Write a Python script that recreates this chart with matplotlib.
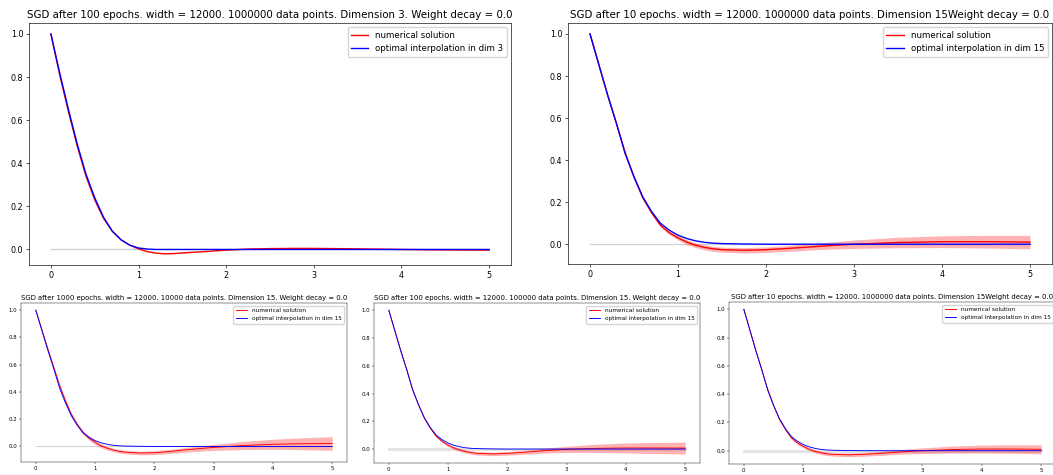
#!/usr/bin/env python
# sgd_panels.py

"""
Numerical solution of SGD vs optimal interpolation, five runs side by side.
"""

import matplotlib
matplotlib.use("Agg")
import matplotlib.pyplot as plt

#####################################################################
# Data
#####################################################################

x = [0, 0.1, 0.2, 0.3, 0.4, 0.5, 0.6, 0.7, 0.8, 0.9, 1.0, 1.1, 1.2, 1.3,
     1.4, 1.5, 1.75, 2.0, 2.25, 2.5, 2.75, 3.0, 3.5, 4.0, 4.5, 5.0]

# optimal interpolation, dimension 3
opt_dim3 = [1.0, 0.82, 0.65, 0.49, 0.35, 0.24, 0.15, 0.085, 0.045, 0.02,
            0.007, 0.002, 0.0, 0.0, 0.0, 0.0, 0.0, 0.0, 0.0, 0.0, 0.0, 0.0,
            0.0, 0.0, 0.0, 0.0]

# optimal interpolation, dimension 15
opt_dim15 = [1.0, 0.855, 0.71, 0.575, 0.43, 0.32, 0.225, 0.155, 0.10, 0.067,
             0.043, 0.027, 0.016, 0.009, 0.005, 0.003, 0.001, 0.0, 0.0, 0.0,
             0.0, 0.0, 0.0, 0.0, 0.0, 0.0]

# 100 epochs, 1000000 points, dim 3
num_a = [1.0, 0.81, 0.64, 0.48, 0.34, 0.23, 0.145, 0.085, 0.045, 0.02,
         0.003, -0.01, -0.017, -0.02, -0.019, -0.016, -0.01, -0.003, 0.002,
         0.004, 0.005, 0.005, 0.003, 0.0, -0.002, -0.003]
spread_a = [0.0, 0.0, 0.0, 0.0, 0.0, 0.0, 0.0, 0.0, 0.0, 0.001, 0.001, 0.001,
            0.001, 0.001, 0.001, 0.001, 0.001, 0.001, 0.001, 0.001, 0.001,
            0.001, 0.001, 0.001, 0.001, 0.001]

# 10 epochs, 1000000 points, dim 15
num_b = [1.0, 0.855, 0.71, 0.575, 0.435, 0.32, 0.22, 0.15, 0.09, 0.055,
         0.03, 0.01, -0.005, -0.015, -0.022, -0.026, -0.029, -0.026, -0.02,
         -0.013, -0.006, 0.0, 0.008, 0.012, 0.012, 0.01]
spread_b = [0.0, 0.002, 0.003, 0.004, 0.004, 0.005, 0.006, 0.007, 0.008,
            0.009, 0.01, 0.011, 0.011, 0.012, 0.012, 0.012, 0.013, 0.013,
            0.014, 0.015, 0.017, 0.02, 0.025, 0.028, 0.03, 0.032]

# 1000 epochs, 10000 points, dim 15
num_c = [1.0, 0.86, 0.72, 0.585, 0.45, 0.335, 0.235, 0.16, 0.10, 0.06,
         0.03, 0.005, -0.012, -0.025, -0.035, -0.041, -0.048, -0.046, -0.037,
         -0.026, -0.016, -0.007, 0.007, 0.016, 0.02, 0.022]
spread_c = [0.0, 0.003, 0.006, 0.008, 0.01, 0.012, 0.013, 0.014, 0.014,
            0.014, 0.014, 0.014, 0.013, 0.013, 0.013, 0.013, 0.013, 0.014,
            0.015, 0.017, 0.019, 0.022, 0.03, 0.037, 0.044, 0.05]

# 100 epochs, 100000 points, dim 15
num_d = [1.0, 0.855, 0.71, 0.575, 0.43, 0.32, 0.222, 0.15, 0.092, 0.055,
         0.028, 0.008, -0.007, -0.018, -0.026, -0.031, -0.035, -0.031,
         -0.024, -0.016, -0.008, -0.002, 0.005, 0.008, 0.008, 0.007]
spread_d = [0.0, 0.002, 0.003, 0.004, 0.004, 0.005, 0.006, 0.007, 0.008,
            0.009, 0.01, 0.011, 0.011, 0.012, 0.012, 0.012, 0.013, 0.013,
            0.014, 0.016, 0.019, 0.022, 0.03, 0.036, 0.04, 0.043]

titles = [
    "SGD after 100 epochs. width = 12000. 1000000 data points. Dimension 3. Weight decay = 0.0",
    "SGD after 10 epochs. width = 12000. 1000000 data points. Dimension 15Weight decay = 0.0",
    "SGD after 1000 epochs. width = 12000. 10000 data points. Dimension 15. Weight decay = 0.0",
    "SGD after 100 epochs. width = 12000. 100000 data points. Dimension 15. Weight decay = 0.0",
    "SGD after 10 epochs. width = 12000. 1000000 data points. Dimension 15Weight decay = 0.0",
]

W, H = 1053, 475

#####################################################################
# Plotter
#####################################################################

def px_box(left, right, top, bottom):
    """pixel box (from top-left of the image) -> figure fraction"""
    return [left / W, 1 - bottom / H, (right - left) / W, (bottom - top) / H]


def panel(fig, box, title, num, spread, opt, dim, s, zero_lw=1.0, zero_col='lightgray'):
    """Draw one run. s is the scale of that picture relative to default sizes."""
    ax = fig.add_axes(px_box(*box))
    lower = [m - d for m, d in zip(num, spread)]
    upper = [m + d for m, d in zip(num, spread)]
    ax.plot([x[0], x[-1]], [0, 0], color=zero_col, lw=zero_lw, zorder=1)
    ax.plot(x, num, 'r', lw=1.7 * s, label='numerical solution', zorder=3)
    ax.fill_between(x, lower, upper, color='r', alpha=0.3, lw=0, zorder=2)
    ax.plot(x, opt, 'b', lw=1.7 * s, label='optimal interpolation in dim %d' % dim,
            zorder=4)
    ax.set_title(title, fontsize=12.8 * s, pad=6 * s)
    ax.tick_params(labelsize=10 * s, length=3.5 * s, width=0.8 * s, pad=3.5 * s)
    for sp in ax.spines.values():
        sp.set_linewidth(0.8 * s)
    ax.legend(loc='upper right', fontsize=10.7 * s)
    return ax


if __name__ == '__main__':
    fig = plt.figure(figsize=(W / 100, H / 100), dpi=100)

    top = 0.58
    bot = 0.39
    panel(fig, (29, 511, 23, 265), titles[0], num_a, spread_a, opt_dim3, 3, top)
    panel(fig, (568, 1052, 23, 264), titles[1], num_b, spread_b, opt_dim15, 15, top)
    panel(fig, (21, 347, 303, 462), titles[2], num_c, spread_c, opt_dim15, 15, bot,
          zero_lw=0.8)
    panel(fig, (374, 700, 303, 463), titles[3], num_d, spread_d, opt_dim15, 15, bot,
          zero_lw=2.2, zero_col='#e4e4e4')
    panel(fig, (729, 1056, 302, 464), titles[4], num_b, spread_b, opt_dim15, 15, bot,
          zero_lw=2.2, zero_col='#e4e4e4')

    fig.savefig("out.png", dpi=100)
